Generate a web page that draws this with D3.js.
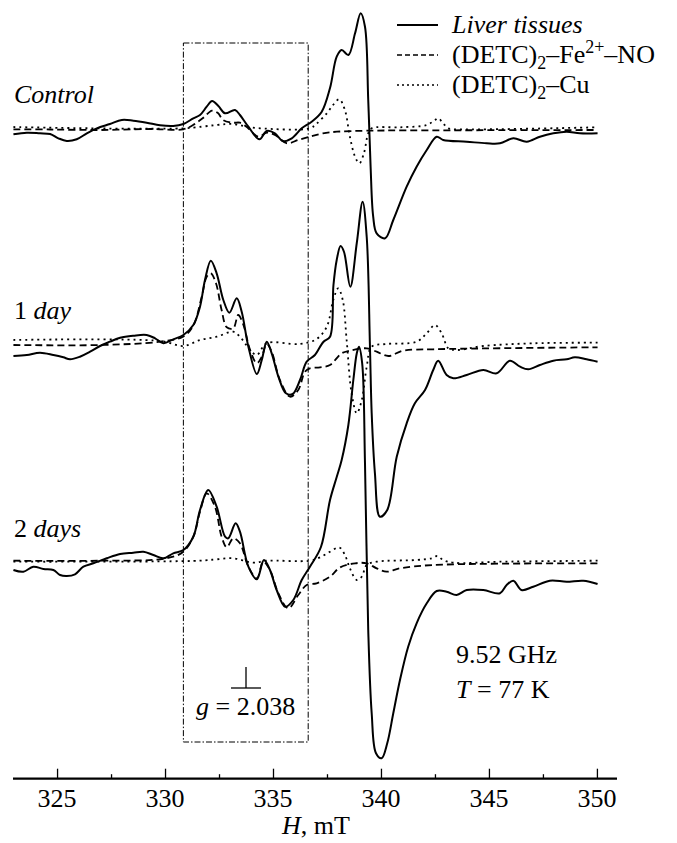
<!DOCTYPE html>
<html lang="en">
<head>
<meta charset="UTF-8">
<title>EPR spectra of liver tissues</title>
<style>
  body { margin: 0; background: #fff; }
  svg { display: block; }
  text { font-family: "Liberation Serif", "DejaVu Serif", serif; fill: #000; }
</style>
<script src="https://d3js.org/d3.v7.min.js"></script>
</head>
<body>
<svg id="chart" width="677" height="843"></svg>
<script>
// spectra: [H (mT), intensity (a.u.)]
const controlLiver = [[322.98,-4.3],[323.60,-2.7],[324.21,-3.3],[324.68,-4],[325.06,-8.3],[325.45,-11],[325.91,-9.3],[326.38,-3.3],[326.84,1.7],[327.45,6],[328.0,10],[328.53,9.3],[329.15,7.3],[329.77,4.7],[330.38,4],[330.85,6],[331.31,11.7],[331.62,15],[331.93,23.3],[332.18,29],[332.47,24],[332.78,16.7],[333.24,20],[333.47,15],[333.86,3.3],[334.37,-9.3],[334.71,-1],[335.09,-3.3],[335.45,-11],[335.87,-8.3],[336.33,1.7],[336.79,8.3],[337.25,18],[337.64,42],[337.95,73.3],[338.18,80],[338.49,75],[338.80,96.7],[339.06,116.7],[339.26,103.3],[339.41,30],[339.52,-36.7],[339.64,-86.7],[339.80,-103.3],[340.19,-108.3],[340.57,-90],[341.19,-56.7],[341.65,-36.7],[342.12,-20],[342.58,-6.7],[342.88,-10],[343.97,-11.7],[344.89,-13.3],[345.51,-13.3],[346.13,-8.3],[346.75,-11.7],[347.36,-6.7],[347.98,-3.3],[348.60,-1.7],[349.21,-3.3],[350.03,-3.3]];
const controlFeNO = [[322.98,0.7],[324.68,0.5],[326.99,0],[329.31,1],[330.83,0.7],[331.30,5],[331.76,12],[332.18,19.3],[332.45,17],[332.69,10],[333.15,7.3],[333.47,7.3],[333.84,2],[334.31,-6.7],[334.72,-2.7],[335.09,-5],[335.65,-13.3],[336.16,-10],[336.71,-6.7],[337.31,-3.3],[337.96,-1.7],[339.34,-0.7],[343.19,-0.3],[350.03,0]];
const controlCu = [[322.98,3],[330.83,1.7],[332.39,5],[333.15,6],[333.78,3.3],[334.40,1.7],[336.71,1.7],[337.0,6],[337.49,16.7],[337.78,25],[338.07,30.7],[338.33,20],[338.56,-6.7],[338.80,-26.7],[339.0,-33.3],[339.21,-23.3],[339.41,-3.3],[339.57,1.7],[340.88,2.7],[342.12,5],[342.50,10],[342.65,11.7],[342.88,6.7],[343.12,1.7],[343.97,0.7],[350.03,2.7]];

const day1Liver = [[322.98,-12],[323.60,-11],[324.21,-8.7],[324.83,-11],[325.29,-13.3],[325.60,-15.3],[326.06,-12.7],[326.53,-7.7],[326.99,-2],[327.45,2.3],[327.92,6.3],[328.53,8.3],[329.15,9],[329.54,5.7],[329.92,0.7],[330.38,4.7],[330.85,9],[331.31,19],[331.62,37.3],[331.85,64],[332.12,83.3],[332.39,70.7],[332.70,44],[332.98,31.3],[333.32,45.7],[333.55,32.3],[333.86,-2.7],[334.25,-30],[334.48,-16],[334.71,2.3],[334.94,-9.3],[335.25,-32.7],[335.60,-49.3],[335.91,-50],[336.25,-36],[336.56,-17.7],[336.94,-11],[337.33,2],[337.64,7.3],[337.80,59],[337.95,84],[338.13,98],[338.29,92],[338.58,57.3],[338.88,101],[339.15,142.3],[339.34,107],[339.49,-2.7],[339.57,-69.3],[339.72,-129.3],[339.95,-172.7],[340.29,-166],[340.73,-112.7],[341.19,-79.3],[341.57,-59.3],[342.04,-46],[342.42,-26],[342.65,-16.7],[343.04,-31],[343.35,-34.3],[343.97,-31],[344.74,-26],[345.36,-29.3],[345.97,-16.7],[346.44,-22.7],[346.82,-25.3],[347.36,-21],[347.98,-16.7],[348.60,-15.3],[348.98,-13.3],[349.52,-15.3],[350.03,-17.7]];
const day1FeNO = [[322.98,-1],[326.99,-1],[329.77,2.3],[330.83,7.3],[331.30,18],[331.70,47.3],[331.93,67.3],[332.12,70.7],[332.36,60.7],[332.62,34],[332.86,16.7],[333.16,15.7],[333.39,29],[333.63,19],[333.94,-6],[334.25,-19.3],[334.48,-12.7],[334.71,0],[334.94,-7.7],[335.32,-36],[335.79,-52.7],[336.17,-46],[336.48,-27.7],[336.71,-24.3],[337.18,-23.3],[337.64,-21],[338.18,-9.3],[338.56,-6.7],[339.34,-4.3],[339.80,-7.7],[340.34,-12],[341.03,-6.7],[342.42,-5.3],[350.03,-3.3]];
const day1Cu = [[322.98,4],[329.77,3],[330.85,-2],[331.62,4],[332.39,7.3],[333.16,12.3],[333.47,7.3],[333.94,-6],[334.25,-11],[334.71,0.7],[336.25,0],[337.02,5],[337.49,17.3],[337.79,44],[338.02,55.7],[338.23,44],[338.41,4],[338.64,-49.3],[338.88,-69.3],[339.11,-56],[339.34,-22.7],[339.57,-2.7],[340.26,0],[341.65,2.3],[342.12,10.7],[342.50,19],[342.81,10.7],[343.12,-4.3],[343.50,-6],[344.74,-2],[347.05,0.7],[350.03,1.3]];

const day2Liver = [[322.98,-9],[323.44,-10.7],[323.90,-5.7],[324.37,-8],[324.83,-9],[325.14,-14],[325.45,-15],[325.83,-13.3],[326.22,-5.7],[326.68,-2.3],[327.30,2.7],[327.92,7],[328.53,8.3],[329.0,9.3],[329.46,6],[329.92,2.7],[330.38,7.7],[330.85,11],[331.31,24.3],[331.62,51],[332.0,71],[332.39,54.3],[332.78,24.3],[332.93,22.7],[333.27,37.7],[333.47,29.3],[333.86,-5.7],[334.25,-18.3],[334.58,1],[334.86,-9],[335.17,-29],[335.56,-45.7],[335.94,-39],[336.33,-19],[336.71,-5.7],[337.22,14],[337.64,61],[337.95,84],[338.18,101],[338.49,136],[338.72,181],[338.88,207.7],[338.98,214.3],[339.13,197.7],[339.26,97.7],[339.41,-69],[339.57,-152.3],[339.77,-192.3],[340.03,-197.3],[340.29,-182.3],[340.57,-152.3],[340.88,-119],[341.26,-85.7],[341.65,-62.3],[342.12,-42.3],[342.58,-30],[343.04,-30.7],[343.50,-34],[343.97,-29],[344.74,-29],[345.51,-32.3],[345.82,-24],[346.13,-19.7],[346.51,-29],[347.05,-25.7],[347.82,-19.7],[348.60,-20.7],[349.37,-19.7],[350.03,-23]];
const day2FeNO = [[322.98,0.3],[326.99,0.3],[330.08,2.7],[330.85,9.3],[331.31,24.3],[331.62,49.3],[331.93,67.7],[332.31,54.3],[332.62,24.3],[332.86,13.7],[333.16,22.7],[333.47,17.7],[333.86,-5.7],[334.25,-17.3],[334.55,-0.7],[334.86,-9],[335.25,-32.3],[335.71,-47.3],[336.17,-34],[336.56,-24],[337.02,-22.3],[337.64,-15.7],[338.10,-6.5],[338.80,-2.3],[339.34,-2.3],[339.80,-7.3],[340.26,-10.7],[340.88,-7.3],[342.42,-4],[350.03,-2.3]];
const day2Cu = [[322.98,-0.7],[331.62,0.3],[332.39,1.7],[333.16,2.7],[334.09,-1.7],[334.71,0.3],[336.71,0.3],[337.18,3.7],[337.64,9.3],[338.07,13.5],[338.33,6],[338.56,-7.3],[338.88,-19],[339.11,-15.7],[339.34,-4],[339.80,-0.7],[341.65,1],[342.35,2.7],[342.61,5],[342.88,1],[343.35,-1.7],[345.51,-0.7],[350.03,0.3]];

const sampleNames = ["Control", "1 day", "2 days"];
const sampleOffsets = [0, -214, -431];
const xTicks = [325, 330, 335, 340, 345, 350];
const xMinorTicks = [327.5, 332.5, 337.5, 342.5, 347.5];
const boxRange = [330.85, 336.63];
const gMarker = 333.75;   // g = 2.038 at 9.52 GHz

const svg = d3.select("#chart");
const x = d3.scaleLinear().domain([322.96, 350.93]).range([13, 617]);
const y = d3.scaleLinear().domain([130, -648]).range([0, 778]);
const axisY = 778.7;

const line = d3.line()
  .x(d => x(d[0]))
  .y(d => y(d[1] + d.offset))
  .curve(d3.curveCatmullRom.alpha(0.5));

function draw(data, offset, style) {
  const pts = data.map(d => { const p = [d[0], d[1]]; p.offset = offset; return p; });
  svg.append("path")
    .attr("d", line(pts))
    .attr("fill", "none")
    .attr("stroke", "#000")
    .attr("stroke-width", style.w)
    .attr("stroke-dasharray", style.dash)
    .attr("stroke-linejoin", "round");
}

const solid = { w: 2, dash: null };
const dashed = { w: 1.8, dash: "7,4" };
const dotted = { w: 1.8, dash: "2,4" };

// dash-dot frame
svg.append("rect")
  .attr("x", x(boxRange[0]))
  .attr("y", 43)
  .attr("width", x(boxRange[1]) - x(boxRange[0]))
  .attr("height", 742 - 43)
  .attr("fill", "none")
  .attr("stroke", "#000")
  .attr("stroke-width", 1)
  .attr("stroke-dasharray", "6,2,1.5,2");

[[controlCu, controlFeNO, controlLiver], [day1Cu, day1FeNO, day1Liver], [day2Cu, day2FeNO, day2Liver]]
  .forEach((set, i) => {
    draw(set[0], sampleOffsets[i], dotted);
    draw(set[1], sampleOffsets[i], dashed);
    draw(set[2], sampleOffsets[i], solid);
  });

// sample labels
const labelY = [103, 319, 537];
svg.append("text").attr("x", 14).attr("y", labelY[0])
  .attr("font-size", 26).attr("font-style", "italic").text(sampleNames[0]);
svg.append("text").attr("x", 14).attr("y", labelY[1]).attr("font-size", 26)
  .call(t => { t.append("tspan").text("1 "); t.append("tspan").attr("font-style", "italic").text("day"); });
svg.append("text").attr("x", 14).attr("y", labelY[2]).attr("font-size", 26)
  .call(t => { t.append("tspan").text("2 "); t.append("tspan").attr("font-style", "italic").text("days"); });

// x axis
const axis = d3.axisTop(x).tickValues(xTicks).tickSize(10).tickFormat("");
const ax = svg.append("g").attr("transform", `translate(0,${axisY})`).call(axis);
ax.select(".domain").remove();
ax.selectAll(".tick line").attr("stroke", "#000").attr("stroke-width", 1.3);
svg.append("g").attr("transform", `translate(0,${axisY})`)
  .call(d3.axisTop(x).tickValues(xMinorTicks).tickSize(4.5).tickFormat(""))
  .call(g => g.select(".domain").remove())
  .call(g => g.selectAll(".tick line").attr("stroke", "#000").attr("stroke-width", 1.3));
svg.append("line")
  .attr("x1", x.range()[0]).attr("x2", x.range()[1])
  .attr("y1", axisY).attr("y2", axisY)
  .attr("stroke", "#000").attr("stroke-width", 2.2);
svg.selectAll(".xlab").data(xTicks).join("text")
  .attr("class", "xlab")
  .attr("x", d => x(d))
  .attr("y", 807)
  .attr("text-anchor", "middle")
  .attr("font-size", 26)
  .text(d => d);
svg.append("text").attr("x", 316).attr("y", 834).attr("text-anchor", "middle").attr("font-size", 26)
  .call(t => { t.append("tspan").attr("font-style", "italic").text("H"); t.append("tspan").text(", mT"); });

// legend
const legend = [
  { style: { w: 2, dash: null } },
  { style: { w: 1.5, dash: "5,3" } },
  { style: { w: 1.5, dash: "2,3" } }
];
legend.forEach((l, i) => {
  const ly = 25 + i * 30;
  svg.append("line").attr("x1", 397).attr("x2", 438).attr("y1", ly).attr("y2", ly)
    .attr("stroke", "#000").attr("stroke-width", l.style.w).attr("stroke-dasharray", l.style.dash);
});
svg.append("text").attr("x", 452).attr("y", 33).attr("font-size", 26).attr("font-style", "italic").text("Liver tissues");
svg.append("text").attr("x", 452).attr("y", 63).attr("font-size", 26)
  .call(t => {
    t.append("tspan").text("(DETC)");
    t.append("tspan").attr("font-size", 18).attr("dy", 6).text("2");
    t.append("tspan").attr("dy", -6).text("–Fe");
    t.append("tspan").attr("font-size", 18).attr("dy", -10).text("2+");
    t.append("tspan").attr("dy", 10).text("–NO");
  });
svg.append("text").attr("x", 452).attr("y", 93).attr("font-size", 26)
  .call(t => {
    t.append("tspan").text("(DETC)");
    t.append("tspan").attr("font-size", 18).attr("dy", 6).text("2");
    t.append("tspan").attr("dy", -6).text("–Cu");
  });

// g marker
const gx = x(gMarker);
svg.append("line").attr("x1", gx).attr("x2", gx).attr("y1", 667).attr("y2", 688)
  .attr("stroke", "#000").attr("stroke-width", 1.3);
svg.append("line").attr("x1", gx - 15).attr("x2", gx + 15).attr("y1", 688).attr("y2", 688)
  .attr("stroke", "#000").attr("stroke-width", 1.3);
svg.append("text").attr("x", 196).attr("y", 715).attr("font-size", 26)
  .call(t => { t.append("tspan").attr("font-style", "italic").text("g"); t.append("tspan").text(" = 2.038"); });

// measurement conditions
svg.append("text").attr("x", 456).attr("y", 663).attr("font-size", 26).text("9.52 GHz");
svg.append("text").attr("x", 456).attr("y", 698).attr("font-size", 26)
  .call(t => { t.append("tspan").attr("font-style", "italic").text("T"); t.append("tspan").text(" = 77 K"); });
</script>
</body>
</html>
